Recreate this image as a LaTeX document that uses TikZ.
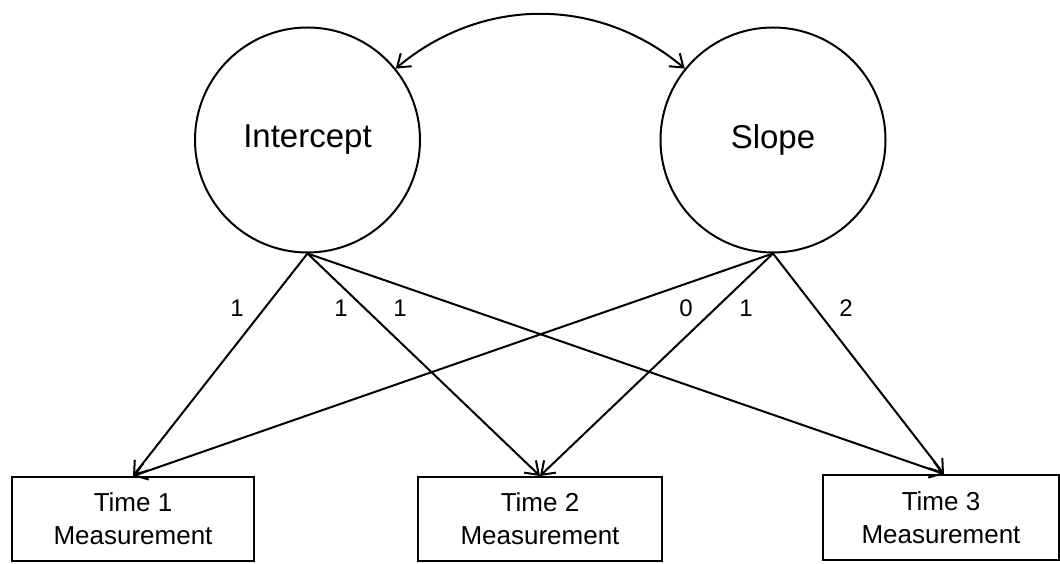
\documentclass[tikz,border=0pt]{standalone}
\usepackage{fontspec}
\setmainfont{Liberation Sans}
\usetikzlibrary{arrows.meta}
\begin{document}
\begin{tikzpicture}[x=1pt,y=1pt,line width=2pt,
        latent/.style={circle,draw,minimum size=225pt,inner sep=0pt,
            font=\fontsize{33}{38}\selectfont},
        obs/.style={rectangle,draw,minimum height=84pt,inner sep=0pt,
            align=center,font=\fontsize{26}{33}\selectfont},
        lbl/.style={inner sep=0pt,font=\fontsize{24}{28}\selectfont},
        load/.style={-{Straight Barb[length=12pt,width=17pt]}}]
\useasboundingbox (0,0) rectangle (1060,564);

\node[latent] (icpt) at (307.5,424) {Intercept};
\node[latent] (slp) at (773,424) {Slope};

\node[obs,minimum width=242pt] (t1) at (133,45) {Time 1\\Measurement};
\node[obs,minimum width=244pt] (t2) at (540,45) {Time 2\\Measurement};
\node[obs,minimum width=236pt,minimum height=85pt] (t3) at (941,46.5) {Time 3\\Measurement};

\draw[load] (icpt.south) -- (t1.north);
\draw[load] (icpt.south) -- (t2.north);
\draw[load] (icpt.south) -- ([xshift=3pt]t3.north);
\draw[load] (slp.south) -- (t1.north);
\draw[load] (slp.south) -- (t2.north);
\draw[load] (slp.south) -- ([xshift=3pt]t3.north);

\draw[{Straight Barb[length=12pt,width=17pt]}-{Straight Barb[length=12pt,width=17pt]}]
    (icpt.39) to[bend left=40] (slp.141);

\node[lbl] (l1) at (237,256) {1};
\node[lbl] (l2) at (341,256) {1};
\node[lbl] (l3) at (400,256) {1};
\node[lbl] (l4) at (686,256) {0};
\node[lbl] (l5) at (746,256) {1};
\node[lbl] (l6) at (846,256) {2};
\end{tikzpicture}
\end{document}
